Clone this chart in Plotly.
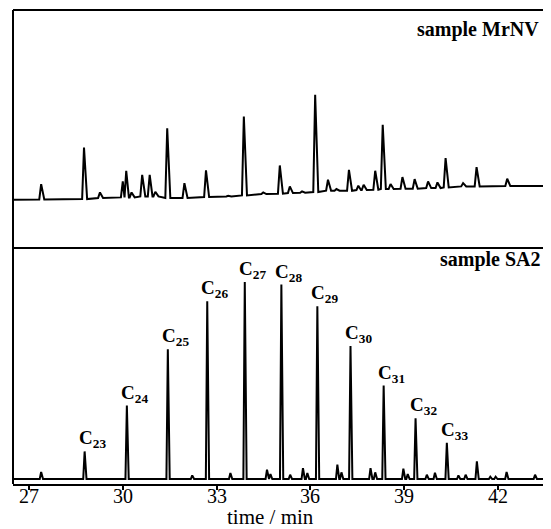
import plotly.graph_objects as go

# ---------------- data ----------------
# x axis ticks (retention time, min)
tick_vals = [27, 30, 33, 36, 39, 42]
tick_text = ["27", "30", "33", "36", "39", "42"]
x_range = [26.49, 43.69]

# Top panel: sample MrNV  (peak time, apex signal, local baseline signal)
mrnv_times = [27.39, 28.76, 29.27, 30.00, 30.11, 30.28, 30.62, 30.86, 31.04, 31.42,
              31.97, 32.66, 33.37, 33.87, 34.49, 35.02, 35.34, 35.73, 36.15, 36.56,
              36.83, 37.23, 37.53, 37.70, 38.07, 38.31, 38.56, 38.94, 39.33, 39.76,
              40.06, 40.32, 40.88, 41.31, 42.29]
mrnv_apex = [192, 302, 167, 200, 232, 167, 220, 220, 169, 360,
             195, 233, 157, 395, 167, 248, 185, 170, 460, 205,
             177, 235, 187, 190, 232, 370, 192, 213, 207, 200,
             197, 270, 195, 243, 208]
mrnv_base = [146, 147, 150, 152, 152, 152, 155, 155, 155, 150,
             150, 153, 155, 158, 162, 163, 165, 166, 168, 172,
             172, 172, 174, 174, 175, 177, 177, 178, 178, 180,
             180, 182, 185, 185, 186]
mrnv_start = (26.49, 145)
mrnv_end = (43.69, 186)

# Bottom panel: sample SA2  (peak time, peak height above baseline)
sa2_times = [27.39, 28.78, 30.13, 31.44, 32.22, 32.70, 33.44, 33.90, 34.61, 34.72,
             35.07, 35.35, 35.76, 35.90, 36.22, 36.86, 36.99, 37.28, 37.92, 38.07,
             38.34, 38.97, 39.11, 39.36, 39.72, 39.98, 40.36, 40.73, 40.96, 41.32,
             41.75, 41.92, 42.27, 43.18]
sa2_heights = [21, 83, 221, 390, 11, 535, 18, 593, 28, 15,
               585, 13, 33, 18, 520, 43, 20, 400, 33, 20,
               281, 31, 15, 183, 13, 19, 109, 11, 13, 53,
               7, 7, 21, 13]

# n-alkane labels of the SA2 peaks
alkane_names = ["23", "24", "25", "26", "27", "28", "29", "30", "31", "32", "33"]
alkane_times = [28.78, 30.13, 31.44, 32.70, 33.90, 35.07, 36.22, 37.28, 38.34, 39.36, 40.36]
alkane_heights = [83, 221, 390, 535, 593, 585, 520, 400, 281, 183, 109]

# ---------------- build chromatogram polylines ----------------
def polyline(times, apex, base, start, end, hwl, hwr):
    xs, ys = [start[0]], [start[1]]
    n = len(times)
    for i, t in enumerate(times):
        lf = t - hwl
        rf = t + hwr
        if i > 0:
            lf = max(lf, (times[i - 1] + t) / 2)
        if i < n - 1:
            rf = min(rf, (times[i + 1] + t) / 2)
        xs += [lf, t, rf]
        ys += [base[i], apex[i], base[i]]
    xs.append(end[0])
    ys.append(end[1])
    return xs, ys

top_x, top_y = polyline(mrnv_times, mrnv_apex, mrnv_base, mrnv_start, mrnv_end, 0.06, 0.1)
zero = [0] * len(sa2_times)
bot_x, bot_y = polyline(sa2_times, sa2_heights, zero, (x_range[0], 0), (x_range[1], 0), 0.045, 0.06)

fig = go.Figure()
fig.add_trace(go.Scatter(x=top_x, y=top_y, mode="lines", xaxis="x2", yaxis="y2",
                         line=dict(color="black", width=2), hoverinfo="skip"))
fig.add_trace(go.Scatter(x=bot_x, y=bot_y, mode="lines", xaxis="x", yaxis="y",
                         line=dict(color="black", width=2), hoverinfo="skip"))

serif = "Liberation Serif, Times New Roman, serif"
split = 236 / 474

annotations = []
for name, t, h in zip(alkane_names, alkane_times, alkane_heights):
    annotations.append(dict(x=t, y=h, xref="x", yref="y", showarrow=False,
                            text=f"<b>C<sub>{name}</sub></b>",
                            xanchor="left", yanchor="bottom", xshift=-8, yshift=-2,
                            font=dict(family=serif, size=19, color="black")))
# tick labels placed close under the axis, as in the reference
for v, s in zip(tick_vals, tick_text):
    annotations.append(dict(x=v, y=0, xref="x", yref="paper", showarrow=False,
                            text=s, xanchor="center", yanchor="middle", yshift=-12,
                            font=dict(family=serif, size=20, color="black")))
annotations.append(dict(x=0.982, y=1, xref="paper", yref="paper", showarrow=False,
                        text="<b>sample MrNV</b>", xanchor="right", yanchor="top", yshift=-6,
                        font=dict(family=serif, size=20, color="black")))
annotations.append(dict(x=0.985, y=split, xref="paper", yref="paper", showarrow=False,
                        text="<b>sample SA2</b>", xanchor="right", yanchor="top", yshift=2,
                        font=dict(family=serif, size=20, color="black")))
annotations.append(dict(x=34.73, y=0, xref="x", yref="paper", showarrow=False,
                        text="time / min", xanchor="center", yanchor="middle", yshift=-33,
                        font=dict(family=serif, size=21, color="black")))

shapes = [
    dict(type="line", xref="paper", yref="paper", x0=0, x1=1, y0=1, y1=1,
         line=dict(color="black", width=2)),
    dict(type="line", xref="paper", yref="paper", x0=0, x1=1, y0=split, y1=split,
         line=dict(color="black", width=2)),
    dict(type="line", xref="paper", yref="paper", x0=0, x1=0, y0=0, y1=1,
         line=dict(color="black", width=2)),
]

# the page body adds an 8 px margin, so the figure is 8 px smaller in each direction
fig.update_layout(
    width=543, height=521,
    margin=dict(l=5, r=0, t=2, b=45),
    paper_bgcolor="white", plot_bgcolor="white",
    showlegend=False,
    xaxis=dict(domain=[0, 1], range=x_range, anchor="y", tickvals=tick_vals,
               showticklabels=False,
               ticks="outside", ticklen=4, tickwidth=1.5, tickcolor="black",
               showline=True, linecolor="black", linewidth=2, showgrid=False, zeroline=False),
    yaxis=dict(domain=[0, split], range=[-15, 695], showticklabels=False, ticks="",
               showgrid=False, zeroline=False, showline=False),
    xaxis2=dict(domain=[0, 1], range=x_range, anchor="y2", matches="x", showticklabels=False,
                ticks="", showgrid=False, zeroline=False, showline=False),
    yaxis2=dict(domain=[split, 1], range=[0, 715], showticklabels=False, ticks="",
                showgrid=False, zeroline=False, showline=False),
    annotations=annotations,
    shapes=shapes,
)

fig.write_html("out.html")
